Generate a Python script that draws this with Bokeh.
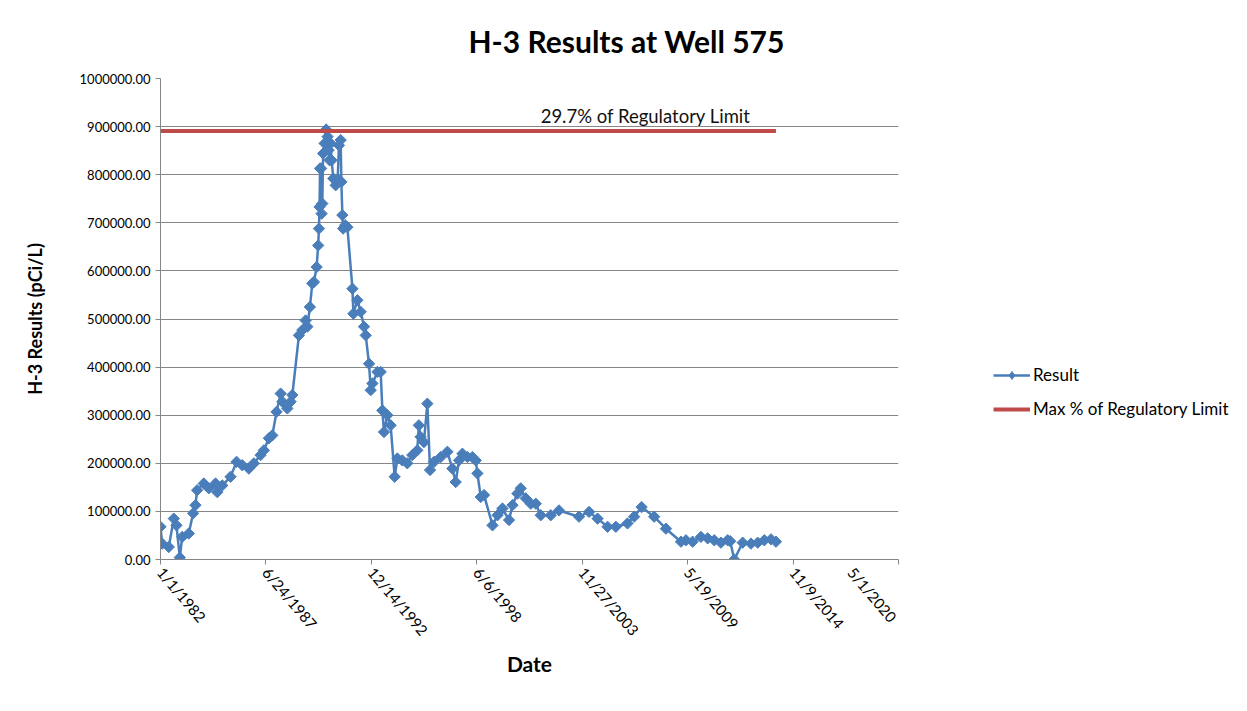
import pandas as pd
from bokeh.plotting import figure
from bokeh.layouts import row
from bokeh.models import (FixedTicker, PrintfTickFormatter, Legend, LegendItem,
                          Label, Range1d, ColumnDataSource)
from bokeh.embed import file_html
from bokeh.resources import INLINE

# ---------------- data ----------------
result_dates = [
    "1982-01-01", "1982-02-03", "1982-06-07", "1982-09-10", "1982-10-31", "1983-01-02",
    "1983-02-17", "1983-06-21", "1983-09-12", "1983-10-26", "1983-11-27", "1984-04-01",
    "1984-07-05", "1984-11-10", "1984-12-13", "1985-03-18", "1985-08-22", "1985-12-14",
    "1986-04-01", "1986-08-04", "1986-11-07", "1987-03-14", "1987-05-16", "1987-08-19",
    "1987-10-23", "1988-01-12", "1988-03-29", "1988-04-30", "1988-08-03", "1988-10-05",
    "1988-11-06", "1989-03-11", "1989-05-15", "1989-07-16", "1989-08-18", "1989-10-05",
    "1989-11-20", "1989-12-20", "1990-02-10", "1990-03-11", "1990-03-26", "1990-04-06",
    "1990-04-16", "1990-05-05", "1990-05-15", "1990-05-28", "1990-06-13", "1990-07-11",
    "1990-08-09", "1990-09-06", "1990-09-25", "1990-10-14", "1990-11-02", "1990-11-21",
    "1990-12-24", "1991-02-06", "1991-03-16", "1991-04-09", "1991-05-12", "1991-05-25",
    "1991-06-13", "1991-06-28", "1991-08-05", "1991-09-16", "1991-12-21", "1992-01-08",
    "1992-03-24", "1992-05-26", "1992-07-28", "1992-08-29", "1992-10-31", "1992-12-02",
    "1993-01-03", "1993-04-08", "1993-06-09", "1993-07-11", "1993-08-11", "1993-10-13",
    "1993-12-15", "1994-03-01", "1994-04-21", "1994-07-24", "1994-10-27", "1995-01-30",
    "1995-05-04", "1995-06-03", "1995-07-06", "1995-09-07", "1995-11-11", "1996-01-01",
    "1996-03-17", "1996-07-22", "1996-11-25", "1997-02-28", "1997-05-02", "1997-07-04",
    "1997-09-07", "1997-12-11", "1998-03-15", "1998-05-17", "1998-06-18", "1998-08-20",
    "1998-10-22", "1999-03-31", "1999-07-04", "1999-10-06", "2000-02-08", "2000-04-13",
    "2000-07-16", "2000-09-17", "2000-12-21", "2001-03-26", "2001-06-29", "2001-10-01",
    "2002-04-09", "2002-09-13", "2003-09-27", "2004-04-05", "2004-09-13", "2005-03-22",
    "2005-08-26", "2006-04-04", "2006-08-08", "2006-12-27", "2007-08-23", "2008-04-02",
    "2009-01-12", "2009-04-17", "2009-08-21", "2010-01-26", "2010-06-03", "2010-10-06",
    "2011-02-09", "2011-06-17", "2011-08-05", "2011-10-20", "2012-03-28", "2012-09-01",
    "2013-01-07", "2013-05-12", "2013-09-16", "2013-12-19",
]
result_values = [
    68000, 33000, 26000, 85000, 71000, 4000,
    47000, 54000, 96000, 113000, 144000, 158000,
    148000, 158000, 140000, 154000, 172000, 203000,
    196000, 189000, 200000, 217000, 227000, 252000,
    258000, 307000, 345000, 328000, 314000, 328000,
    342000, 466000, 477000, 497000, 484000, 525000,
    574000, 577000, 608000, 653000, 688000, 733000,
    813000, 813000, 719000, 740000, 844000, 865000,
    894000, 879000, 851000, 830000, 865000, 830000,
    792000, 778000, 790000, 861000, 872000, 785000,
    716000, 688000, 695000, 691000, 563000, 511000,
    539000, 515000, 484000, 466000, 407000, 352000,
    366000, 390000, 390000, 310000, 265000, 300000,
    279000, 172000, 210000, 206000, 200000, 217000,
    227000, 279000, 255000, 244000, 324000, 186000,
    203000, 213000, 224000, 189000, 161000, 206000,
    220000, 213000, 213000, 206000, 179000, 130000,
    134000, 71000, 92000, 106000, 82000, 113000,
    137000, 148000, 127000, 116000, 116000, 92000,
    92000, 102000, 89000, 99000, 85000, 68000,
    68000, 75000, 89000, 109000, 89000, 64000,
    37000, 40000, 37000, 47000, 44000, 40000,
    35000, 40000, 38000, 0, 35000, 33000,
    35000, 40000, 42000, 37000,
]
limit_dates = ["1982-01-01", "2013-12-19"]
limit_values = [891000, 891000]
limit_text = "29.7% of Regulatory Limit"

tick_dates = ["1982-01-01", "1987-06-24", "1992-12-14", "1998-06-06",
              "2003-11-27", "2009-05-19", "2014-11-09", "2020-05-01"]
tick_labels = ["1/1/1982", "6/24/1987", "12/14/1992", "6/6/1998",
               "11/27/2003", "5/19/2009", "11/9/2014", "5/1/2020"]
y_ticks = list(range(0, 1000001, 100000))

series_names = ["Result", "Max % of Regulatory Limit"]


def to_ms(dates):
    return [float((pd.Timestamp(d) - pd.Timestamp("1970-01-01")) // pd.Timedelta("1ms")) for d in dates]


FONT = "Lato"
BLUE = "#4A7EBB"
RED = "#BE4B48"
GRID = "#868686"

x_res = to_ms(result_dates)
x_lim = to_ms(limit_dates)
x_ticks = to_ms(tick_dates)

H = 705
p = figure(width=900, height=H, output_backend="svg", toolbar_location=None,
           x_axis_type="datetime",
           x_range=Range1d(x_ticks[0], x_ticks[-1]), y_range=Range1d(0, 1000000),
           min_border_left=160, min_border_right=2, min_border_top=78, min_border_bottom=146,
           title="H-3 Results at Well 575")
p.outline_line_color = None
p.background_fill_color = "white"
p.border_fill_color = "white"

p.title.text_font = FONT
p.title.text_font_style = "bold"
p.title.text_font_size = "30px"
p.title.align = "left"
p.title.offset = 308
p.title.standoff = 39
p.title.text_color = "#000000"

src = ColumnDataSource(dict(x=x_res, y=result_values))
r_line = p.line("x", "y", source=src, line_color=BLUE, line_width=2.5)
r_pts = p.scatter("x", "y", source=src, marker="square", angle=0.785398, size=8,
                  fill_color=BLUE, line_color=BLUE)
lim = p.line(x_lim, limit_values, line_color=RED, line_width=4)

# axes
p.xaxis.ticker = FixedTicker(ticks=x_ticks)
p.xaxis.major_label_overrides = {t: l for t, l in zip(x_ticks, tick_labels)}
p.xaxis.major_label_orientation = -0.87
p.yaxis.ticker = FixedTicker(ticks=y_ticks)
p.yaxis.formatter = PrintfTickFormatter(format="%.2f")
for ax in (p.xaxis, p.yaxis):
    ax.axis_line_color = GRID
    ax.major_tick_line_color = GRID
    ax.major_tick_in = 0
    ax.major_tick_out = 5
    ax.minor_tick_line_color = None
    ax.major_label_text_font = FONT
    ax.major_label_text_color = "#000000"
    ax.major_label_standoff = 5
    ax.axis_label_text_font = FONT
    ax.axis_label_text_font_style = "bold"
    ax.axis_label_text_color = "#000000"
p.yaxis.major_label_text_font_size = "13px"
p.xaxis.major_label_text_font_size = "15px"
p.xaxis.axis_label = "Date"
p.xaxis.axis_label_text_font_size = "21px"
p.xaxis.axis_label_standoff = 3
p.yaxis.axis_label = "H-3 Results (pCi/L)"
p.yaxis.axis_label_text_font_size = "18px"
p.yaxis.axis_label_standoff = 31

p.xgrid.grid_line_color = None
p.ygrid.grid_line_color = GRID
p.ygrid.grid_line_width = 1

# annotation
ann_x = to_ms(["2007-03-15"])[0]
p.add_layout(Label(x=ann_x, y=922000, text=limit_text, text_font=FONT,
                   text_font_size="18.5px", text_align="center", text_baseline="middle",
                   text_color="#111111"))

# ---------------- legend panel (separate figure to the right) ----------------
lg = figure(width=340, height=H, output_backend="svg", toolbar_location=None,
            x_range=Range1d(0, 1), y_range=Range1d(0, 1),
            min_border_left=0, min_border_right=0, min_border_top=0, min_border_bottom=0)
lg.axis.visible = False
lg.grid.visible = False
lg.outline_line_color = None
lg.background_fill_color = "white"
lg.border_fill_color = "white"
# off-range samples so only the legend shows them
lg_line = lg.line(x=[-5, -4], y=[-5, -5], line_color=BLUE, line_width=2.5)
lg_pt = lg.scatter(x=[-5], y=[-5], marker="diamond", size=11, fill_color=BLUE, line_color=BLUE)
lg_lim = lg.line(x=[-5, -4], y=[-5, -5], line_color=RED, line_width=4)

legend = Legend(items=[LegendItem(label=series_names[0], renderers=[lg_line, lg_pt]),
                       LegendItem(label=series_names[1], renderers=[lg_lim])],
                location=(93, 140), orientation="vertical",
                glyph_width=37, glyph_height=20, label_height=20, spacing=13,
                padding=0, margin=0, label_standoff=3,
                border_line_color=None, background_fill_alpha=0,
                label_text_font=FONT, label_text_font_size="17px", label_text_color="#000000")
lg.add_layout(legend, "center")

layout = row(p, lg)
open("out.html", "w").write(file_html(layout, INLINE))
